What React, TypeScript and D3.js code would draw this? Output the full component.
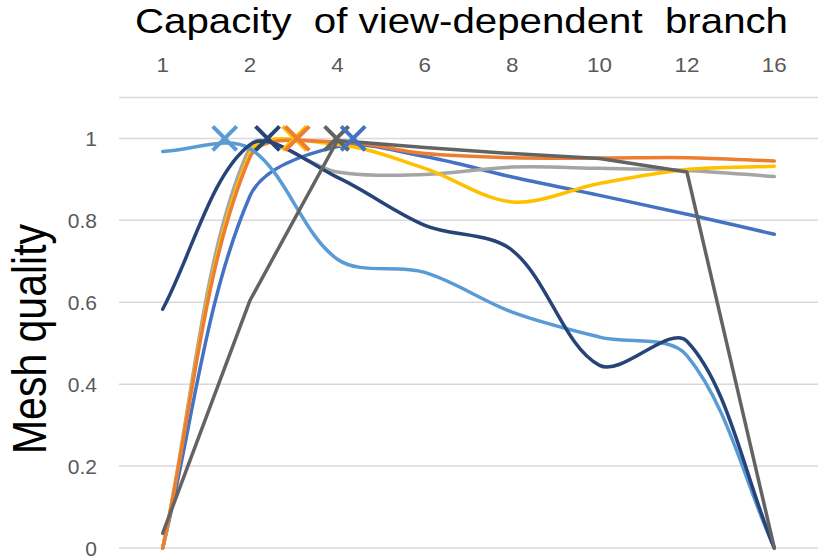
import React, { useEffect } from 'react';
import * as d3 from 'd3';

// category labels along the top axis
const capacities = ['1', '2', '4', '6', '8', '10', '12', '16'];
const yTicks = [0, 0.2, 0.4, 0.6, 0.8, 1];

// one array per series
const blueVals = [0, 0.86, 0.98, 0.956, 0.906, 0.861, 0.815, 0.766];
const grayVals = [0, 0.98, 0.918, 0.912, 0.93, 0.927, 0.922, 0.907];
const yellowVals = [0, 0.965, 0.985, 0.927, 0.845, 0.89, 0.924, 0.932];
const orangeVals = [0, 0.955, 0.992, 0.963, 0.953, 0.952, 0.953, 0.945];
const lightBlueVals = [0.968, 0.975, 0.705, 0.673, 0.576, 0.515, 0.47, 0];
const navyVals = [0.583, 0.985, 0.905, 0.788, 0.727, 0.446, 0.505, 0];
const darkGrayVals = [0.036, 0.605, 0.995, 0.978, 0.963, 0.951, 0.918, 0];

const series = [
  { name: 'blue', color: '#4472C4', values: blueVals, smooth: true },
  { name: 'gray', color: '#A5A5A5', values: grayVals, smooth: true },
  { name: 'yellow', color: '#FFC000', values: yellowVals, smooth: true },
  { name: 'orange', color: '#ED7D31', values: orangeVals, smooth: true },
  { name: 'lightBlue', color: '#5B9BD5', values: lightBlueVals, smooth: true },
  { name: 'navy', color: '#264478', values: navyVals, smooth: true },
  { name: 'darkGray', color: '#636363', values: darkGrayVals, smooth: false },
];

// peak markers: fractional category index and value
const markerColors = ['#5B9BD5', '#264478', '#FFC000', '#ED7D31', '#636363', '#4472C4'];
const markerIndex = [0.71, 1.2, 1.51, 1.54, 1.99, 2.18];
const markerValue = [1, 1, 1, 1, 1, 1];

const W = 829;
const H = 559;
const font = '"Liberation Sans", Arial, sans-serif';

// spreadsheet-style smoothing: bezier handles along (next - prev),
// shortened for the shorter neighbouring segment
const smoothPath = (pts: [number, number][]) => {
  const p = d3.path();
  const n = pts.length;
  const dist = (a: [number, number], b: [number, number]) => Math.hypot(b[0] - a[0], b[1] - a[1]);
  const handle = (i: number, dir: number): [number, number] => {
    const cur = pts[i];
    const prev = pts[Math.max(i - 1, 0)];
    const next = pts[Math.min(i + 1, n - 1)];
    const dPrev = dist(prev, cur);
    const dNext = dist(cur, next);
    const seg = dir > 0 ? dNext : dPrev;
    const tot = dPrev + dNext || 1;
    const f = i === 0 || i === n - 1 ? 1 / 3 : seg / tot / 3;
    return [cur[0] + dir * (next[0] - prev[0]) * f, cur[1] + dir * (next[1] - prev[1]) * f];
  };
  p.moveTo(pts[0][0], pts[0][1]);
  for (let i = 0; i < n - 1; i++) {
    const c1 = handle(i, 1);
    const c2 = handle(i + 1, -1);
    p.bezierCurveTo(c1[0], c1[1], c2[0], c2[1], pts[i + 1][0], pts[i + 1][1]);
  }
  return p.toString();
};

const App = () => {
  useEffect(() => {
    document.body.style.margin = '0';
  }, []);

  const margin = { left: 119, right: 11, top: 97.5, bottom: 11 };
  const x = d3
    .scalePoint()
    .domain(capacities)
    .range([margin.left, W - margin.right])
    .padding(0.5);
  const xIdx = d3
    .scaleLinear()
    .domain([0, capacities.length - 1])
    .range([x(capacities[0]) as number, x(capacities[capacities.length - 1]) as number]);
  const y = d3
    .scaleLinear()
    .domain([0, 1.1])
    .range([H - margin.bottom, margin.top]);

  const straightLine = d3
    .line<number>()
    .x((d, i) => x(capacities[i]) as number)
    .y(d => y(d));

  const m = 12;

  return (
    <svg width={W} height={H} style={{ display: 'block' }}>
      <rect width={W} height={H} fill="#fff" />
      <text
        x={135}
        y={33}
        fontFamily={font}
        fontSize={35}
        fill="#000"
        textLength={653}
        lengthAdjust="spacingAndGlyphs"
        style={{ whiteSpace: 'pre' }}
      >
        {'Capacity  of view-dependent  branch'}
      </text>

      {capacities.map(c => (
        <text
          key={c}
          transform={`translate(${x(c)},72) scale(1.12,1)`}
          textAnchor="middle"
          fontFamily={font}
          fontSize={20}
          fill="#595959"
        >
          {c}
        </text>
      ))}

      {/* gridlines and the top axis line */}
      {[...yTicks, 1.1].map(t => (
        <line
          key={t}
          x1={margin.left}
          x2={W - margin.right}
          y1={y(t)}
          y2={y(t)}
          stroke="#D9D9D9"
          strokeWidth={1.5}
        />
      ))}

      {yTicks.map(t => (
        <text
          key={t}
          x={97}
          y={y(t) + 8}
          textAnchor="end"
          fontFamily={font}
          fontSize={21}
          fill="#595959"
        >
          {d3.format('~g')(t)}
        </text>
      ))}

      <text
        transform={`translate(46,339) scale(1.15,1) rotate(-90)`}
        textAnchor="middle"
        fontFamily={font}
        fontSize={41}
        fill="#000"
      >
        Mesh quality
      </text>

      {series.map(s => {
        const pts = s.values.map((v, i) => [x(capacities[i]) as number, y(v)] as [number, number]);
        return (
          <path
            key={s.name}
            d={s.smooth ? smoothPath(pts) : straightLine(s.values) || ''}
            fill="none"
            stroke={s.color}
            strokeWidth={3.5}
            strokeLinejoin="round"
            strokeLinecap="round"
          />
        );
      })}

      {markerIndex.map((mi, i) => {
        const cx = xIdx(mi);
        const cy = y(markerValue[i]);
        return (
          <path
            key={i}
            d={`M${cx - m},${cy - m}L${cx + m},${cy + m}M${cx - m},${cy + m}L${cx + m},${cy - m}`}
            stroke={markerColors[i]}
            strokeWidth={4}
            fill="none"
          />
        );
      })}
    </svg>
  );
};

export default App;
